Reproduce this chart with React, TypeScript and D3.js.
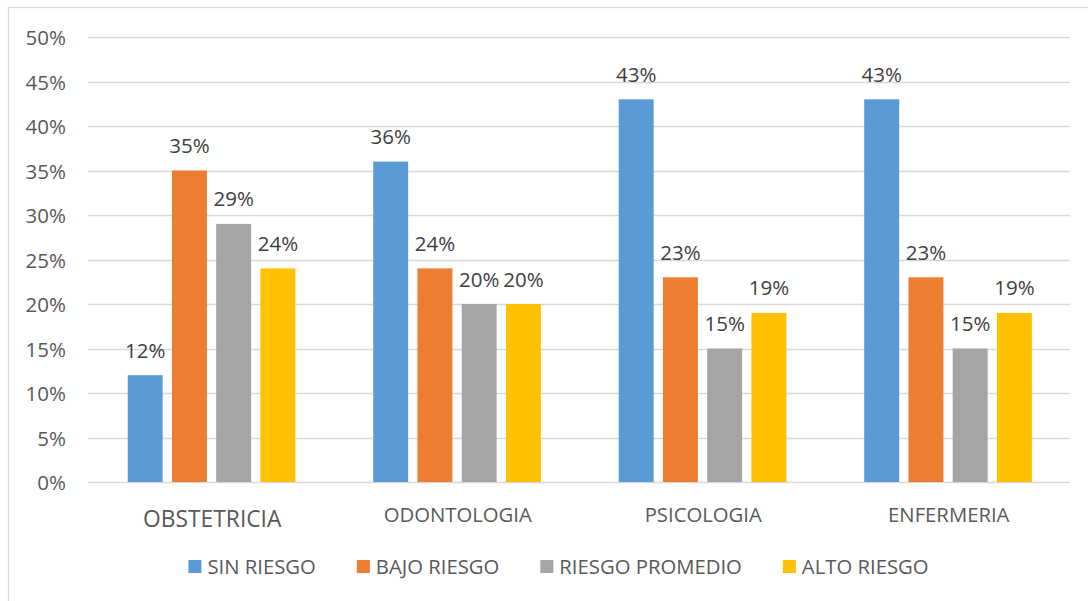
import React from "react";
import * as d3 from "d3";

const categories = ["OBSTETRICIA", "ODONTOLOGIA", "PSICOLOGIA", "ENFERMERIA"];
const seriesNames = ["SIN RIESGO", "BAJO RIESGO", "RIESGO PROMEDIO", "ALTO RIESGO"];
const sinRiesgo = [12, 36, 43, 43];
const bajoRiesgo = [35, 24, 23, 23];
const riesgoPromedio = [29, 20, 15, 15];
const altoRiesgo = [24, 20, 19, 19];
const yTicks = [0, 5, 10, 15, 20, 25, 30, 35, 40, 45, 50];

const seriesValues = [sinRiesgo, bajoRiesgo, riesgoPromedio, altoRiesgo];
const colors = ["#5B9BD5", "#ED7D31", "#A5A5A5", "#FFC000"];

const W = 1088;
const H = 601;
const FONT = "'Open Sans', 'Noto Sans', sans-serif";

function measure(text: string, size: number): number {
  const c = document.createElement("canvas");
  const ctx = c.getContext("2d");
  if (!ctx) return text.length * size * 0.55;
  ctx.font = `${size}px 'Open Sans'`;
  return ctx.measureText(text).width;
}

export default function App() {
  const left = 88;
  const right = 1070;
  const y = d3.scaleLinear().domain([0, 50]).range([482, 37]);
  const x0 = d3.scaleBand<string>().domain(categories).range([left, right]).paddingInner(0).paddingOuter(0);
  const x1 = d3
    .scaleBand<string>()
    .domain(seriesNames)
    .range([0, x0.bandwidth()])
    .paddingInner(0.21)
    .paddingOuter(0.88);

  const legendSize = 20.3;
  const gap = 41;
  const widths = seriesNames.map((s) => measure(s, legendSize));
  const itemW = widths.map((w) => 19 + w + gap);
  const total = itemW.reduce((a, b) => a + b, 0) - gap;
  let lx = 558.5 - total / 2;
  const legendItems = seriesNames.map((s, i) => {
    const item = { name: s, x: lx, color: colors[i] };
    lx += itemW[i];
    return item;
  });

  return (
    <svg
      width={W}
      height={H}
      style={{ position: "fixed", left: 0, top: 0, background: "#fff" }}
      fontFamily={FONT}
    >
      <rect x={0} y={0} width={W} height={H} fill="#fff" />
      <rect x={8.5} y={7.5} width={W + 10} height={H + 10} fill="#fff" stroke="#D9D9D9" strokeWidth={1.3} />
      {yTicks.map((t) => (
        <g key={t}>
          <line x1={left} x2={right} y1={Math.round(y(t)) + 0.5} y2={Math.round(y(t)) + 0.5} stroke="#D9D9D9" strokeWidth={1.4} />
          <text x={66} y={y(t) + 8.3} textAnchor="end" fontSize={20.5} fill="#595959">
            {t}%
          </text>
        </g>
      ))}
      {categories.map((c, ci) => (
        <g key={c} transform={`translate(${x0(c)},0)`}>
          {seriesNames.map((s, si) => {
            const v = seriesValues[si][ci];
            const bx = (x1(s) as number) + 0.8;
            return (
              <g key={s}>
                <rect x={bx} y={y(v)} width={x1.bandwidth()} height={y(0) - y(v)} fill={colors[si]} />
                <text x={bx + x1.bandwidth() / 2} y={y(v) - 17.5} textAnchor="middle" fontSize={20.5} fill="#404040">
                  {v}%
                </text>
              </g>
            );
          })}
          <text
            x={x0.bandwidth() / 2 + 1.5}
            y={ci === 0 ? 527 : 522}
            textAnchor="middle"
            fontSize={ci === 0 ? 22.8 : 20.3}
            fill="#595959"
          >
            {c}
          </text>
        </g>
      ))}
      {legendItems.map((it) => (
        <g key={it.name}>
          <rect x={it.x} y={560} width={13} height={13} fill={it.color} />
          <text x={it.x + 19} y={574} fontSize={legendSize} fill="#595959">
            {it.name}
          </text>
        </g>
      ))}
    </svg>
  );
}
